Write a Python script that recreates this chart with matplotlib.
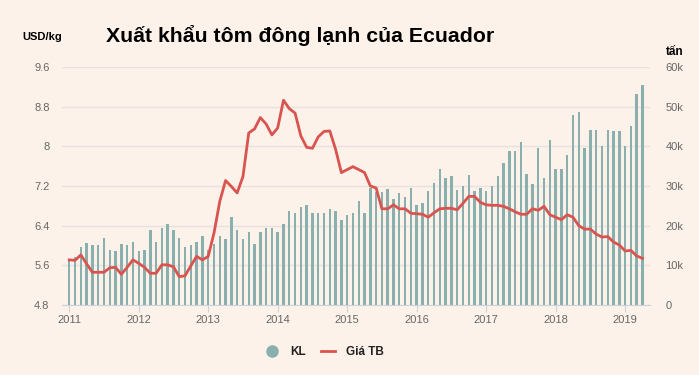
import numpy as np
import pandas as pd
import matplotlib
matplotlib.use("Agg")
import matplotlib.pyplot as plt
from matplotlib.lines import Line2D

plt.rcParams['font.family'] = ['Liberation Sans', 'DejaVu Sans']

# ==================== dữ liệu (T1/2011 - T4/2019) ====================
months = pd.date_range("2011-01-01", "2019-04-01", freq="MS")

# KL: khối lượng xuất khẩu (tấn)
kl = [
    11500, 12000, 14700, 15700, 15200, 15000, 17000, 13900, 13700, 15500, 15200, 16000,
    13700, 13900, 19000, 16000, 19300, 20500, 18800, 17000, 14700, 15000, 16000, 17300,
    13900, 15300, 17300, 16700, 22300, 18900, 16700, 18400, 15500, 18400, 19500, 19300,
    18400, 20500, 23600, 23100, 24600, 25100, 23100, 23300, 23100, 24300, 23800, 21300,
    22600, 23200, 26300, 23300, 29600, 28500, 28500, 29300, 26800, 28300, 27100, 29400,
    25100, 25800, 28800, 30800, 34400, 32100, 32600, 29100, 29900, 32800, 28800, 29400,
    28800, 29900, 32400, 35900, 38700, 38700, 41200, 33100, 30400, 39700, 31900, 41500,
    34400, 34400, 37700, 47800, 48600, 39700, 44000, 44000, 40000, 44200, 43800, 43800,
    40200, 45000, 53200, 55400,
]

# Giá TB (USD/kg)
gia = [
    5.71, 5.70, 5.81, 5.63, 5.46, 5.46, 5.46, 5.55, 5.56, 5.42, 5.56, 5.71,
    5.64, 5.56, 5.44, 5.44, 5.61, 5.61, 5.57, 5.37, 5.39, 5.59, 5.78, 5.71,
    5.78, 6.25, 6.89, 7.31, 7.19, 7.06, 7.39, 8.27, 8.35, 8.58, 8.45, 8.23,
    8.37, 8.93, 8.76, 8.67, 8.21, 7.98, 7.96, 8.19, 8.30, 8.31, 7.94, 7.47,
    7.53, 7.59, 7.53, 7.47, 7.20, 7.16, 6.74, 6.74, 6.82, 6.74, 6.74, 6.65,
    6.64, 6.63, 6.57, 6.66, 6.74, 6.75, 6.75, 6.72, 6.85, 6.99, 6.99, 6.87,
    6.82, 6.81, 6.81, 6.79, 6.74, 6.68, 6.63, 6.63, 6.74, 6.71, 6.79, 6.62,
    6.57, 6.52, 6.62, 6.57, 6.40, 6.33, 6.33, 6.23, 6.17, 6.18, 6.07, 6.01,
    5.89, 5.90, 5.79, 5.74,
]

years = list(range(2011, 2020))
left_ticks = [4.8, 5.6, 6.4, 7.2, 8, 8.8, 9.6]
right_ticks = [0, 10000, 20000, 30000, 40000, 50000, 60000]
right_labels = ["0", "10k", "20k", "30k", "40k", "50k", "60k"]

# ==================== màu sắc ====================
BG = "#FDF2E9"
BAR = "#8AAFAF"
LINE = "#D9534F"
TXT = "#666666"
GRID = "#E6E2DF"

fig = plt.figure(figsize=(6.99, 3.75), dpi=100, facecolor=BG)
ax_kl = fig.add_axes([0.0887, 0.1867, 0.8412, 0.6347])
ax_kl.set_facecolor(BG)
ax_gia = ax_kl.twinx()

x = np.arange(len(months))
ax_kl.bar(x, kl, width=0.42, color=BAR, zorder=2)
ax_kl.set_ylim(0, 60000)
ax_kl.set_yticks(right_ticks)
ax_kl.set_yticklabels(right_labels)
ax_kl.yaxis.tick_right()
ax_kl.yaxis.grid(True, color=GRID, linewidth=1, zorder=0)
ax_kl.set_axisbelow(True)

ax_gia.plot(x, gia, color=LINE, linewidth=2, zorder=3)
ax_gia.set_ylim(4.8, 9.6)
ax_gia.set_yticks(left_ticks)
ax_gia.set_yticklabels([f"{v:g}" for v in left_ticks])
ax_gia.yaxis.tick_left()

ax_kl.set_xlim(-1.25, 100.3)
year_pos = [(y - 2011) * 12 for y in years]
ax_kl.set_xticks(year_pos)
ax_kl.set_xticklabels([str(y) for y in years])

for a in (ax_kl, ax_gia):
    for s in a.spines.values():
        s.set_visible(False)
    a.tick_params(axis="y", length=0, labelsize=8, colors=TXT)
ax_kl.tick_params(axis="y", pad=11)
ax_gia.tick_params(axis="y", pad=9)
ax_kl.spines["bottom"].set_visible(True)
ax_kl.spines["bottom"].set_color("#C8D3DE")
ax_kl.tick_params(axis="x", length=5, color="#C8D3DE", labelsize=8, labelcolor=TXT, pad=2)

# ==================== chữ ====================
fig.text(0.43, 0.905, "Xuất khẩu tôm đông lạnh của Ecuador", ha="center", va="center",
         fontsize=15.3, fontweight="bold", color="black")
fig.text(0.032, 0.9, "USD/kg", ha="left", va="center", fontsize=8, fontweight="bold", color="black")
fig.text(0.952, 0.862, "tấn", ha="left", va="center", fontsize=8.5, fontweight="bold", color="black")

handles = [Line2D([], [], marker="o", linestyle="none", markersize=8, color=BAR),
           Line2D([], [], color=LINE, linewidth=2)]
leg = fig.legend(handles, ["KL", "Giá TB"], loc="center", bbox_to_anchor=(0.464, 0.062),
                 ncol=2, frameon=False, fontsize=8.5, handlelength=1.2, columnspacing=1.3,
                 handletextpad=0.9)
for t in leg.get_texts():
    t.set_fontweight("bold")
    t.set_color("#222222")

plt.savefig("out.png", dpi=100, facecolor=BG)
